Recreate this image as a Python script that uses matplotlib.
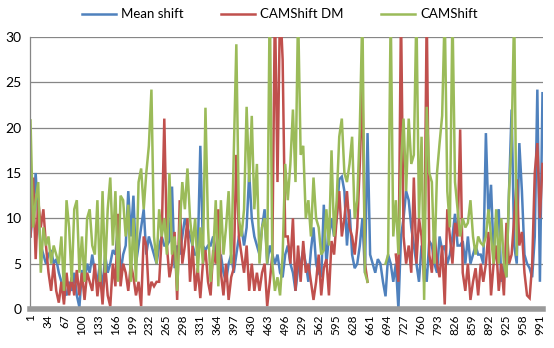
import numpy as np
import matplotlib
matplotlib.use("Agg")
import matplotlib.pyplot as plt

nan = np.nan

# Frame numbers sampled every 5 frames (1 .. 996)
frames = list(range(1, 997, 5))

mean_shift = [
    8, 11, 15, 10, 7, 6, 5, 6, 6.5, 5, 5.5, 4, 3, 2, 1.5, 3, 2, 4, 1.5, 0.2, 4.3, 3, 5, 4, 6,
    4, 3, 5, 2, 6, 4, 5, 6.5, 6, 9, 4, 6, 7, 13, 8, 12.5, 5, 7, 9, 11, 6, 8, 7, 6, 5,
    7, 8, 7, 7, 7.5, 13.5, 4.5, 7, 6, 8, 10, 9, 8, 7, 6, 6, 18, 7, 6.5, 7, 7, 8, 6, 5, 6,
    4, 3, 5, 6, 4, 6, 8, 9, 7, 9, 15, 10, 8, 7, 6, 9, 11, 5, 7, 6, 5, 6, 4, 3.5, 6,
    7, 5, 4, 2, 4.5, 5, 6.5, 5, 3, 6.5, 9, 5, 4, 3.5, 11.5, 5, 8, 10, 8, 10, 14.3, 14.6, 13, 7, 11,
    6, 4.5, 5, 7, 10, 4, 19.4, 6, 5, 4, 5.5, 5, 3, 1.4, 6, 5, 3, 5, 0, 8, 10, 13, 12, 9, 7,
    5, 3, 7, 5, 3, 7.5, 7, 5, 4, 8, 6.5, 7, 5, 6, 8, 10.5, 7, 7, 7.5, 5, 8, 5, 6, 7, 6,
    6, 5, 19.4, 10, 13.7, 6, 10, 11, 3, 5, 3.5, 13, 22, 7, 5, 18.3, 13, 6, 5, 4.5, 3.5, 8, 24.2, 3, 23.8,
]

camshift_dm = [
    8, 14.5, 5.5, 12, 9, 11, 7, 4, 2, 5, 2, 0.7, 3, 0.5, 4, 1.5, 3.5, 1.5, 4.3, 1.5, 4, 1, 4, 3, 2,
    5, 1.4, 4, 0.5, 5, 1.5, 0.3, 5, 2.5, 10.5, 2.5, 5, 4, 2, 5, 3.5, 1.5, 3, 0.3, 8, 7, 1.5, 3, 2.5, 3,
    3, 8, 21, 7, 3.5, 5, 8.5, 1, 12, 5, 7, 10, 3, 7, 2, 4.5, 1.2, 5, 6.5, 3, 1.5, 6.5, 5, 11, 4,
    1.5, 5, 1, 3.5, 4.5, 17, 8, 6, 4, 7, 2, 5, 2, 4, 2, 4, 5, 0.3, 3, 6, 34, 14, 34, 27.5, 8,
    8, 5, 10, 2, 7, 3, 7.5, 4, 5, 3, 1, 3, 6, 1.5, 4.5, 5.5, 1.5, 7.5, 6, 10, 13, 8, 10, 13, 9,
    8, 6, 9, 16, 25, 5, 3, nan, nan, nan, nan, nan, nan, nan, nan, nan, nan, 6, 3, 33, 8, 5, 7, 4, 14.5,
    5, 10, 8, 3, 33, 6, 4, 8.7, 5, 3.5, 7, 0.5, 11, 8, 5, 9.5, 8, 19.8, 4, 2, 5, 1, 3, 4.5, 1.5,
    5, 3, 5, 8.5, 1.5, 5, 7, 2, 5, 1.5, 9.5, 5, 6, 10, 14.3, 7, 8.5, 4, 1.5, 1.2, 5, 15, 18.3, 10, 16,
]

camshift = [
    20.8, 9, 12, 14, 4, 9, 7, 8, 5, 7, 6, 5, 8, 2, 12, 9, 3, 11, 12, 4, 8, 3, 10, 11, 7,
    6, 12, 3, 13, 4, 11, 14.5, 7, 13, 3, 12.5, 12, 8, 11.5, 3, 10, 3, 14, 15.5, 11, 15, 18, 24.2, 8, 5,
    11, 8, 10, 6, 15, 6, 8, 2, 9, 14, 11, 15.5, 10, 7, 10, 4, 9, 5, 22.2, 9, 3, 6, 12, 2.5, 12,
    6, 9, 13, 5, 17, 29.2, 10, 8, 11, 22.3, 14, 21.3, 11, 16, 5, 9, 10, 5, 35, 5, 2, 3.5, 1.5, 6, 16,
    12, 16, 22, 14, 33, 17, 18, 10, 12, 8, 14.5, 10, 9, 6, 6.5, 11, 7, 17.5, 8, 12, 19, 21, 15, 14, 16,
    19, 10, 12, 20, 33, 4, 3, nan, nan, nan, nan, nan, nan, 5, 6, 33, 8, 12, 6, 16, 21, 13, 21, 16, 17,
    33, 10, 19, 1, 22.3, 15, 14, 5, 15, 18.3, 21.3, 33, 13, 9, 33, 14, 11, 8, 10, 9, 9.5, 12, 8, 6, 8,
    7.3, 7, 8, 11, 8, 5, 11, 5, 10, 5, 3.5, 13, 18.5, 33, 6, nan, nan, nan, nan, nan, nan, nan, nan, nan, nan,
]

series_names = ["Mean shift", "CAMShift DM", "CAMShift"]
series_colors = ["#4F81BD", "#C0504D", "#9BBB59"]
x_tick_labels = [str(v) for v in range(1, 992, 33)]
y_ticks = [0, 5, 10, 15, 20, 25, 30]

plt.rcParams['font.family'] = ['Lato', 'DejaVu Sans']

fig = plt.figure(figsize=(5.54, 3.48), dpi=100)
ax = fig.add_axes([30 / 554, 39 / 348, 513 / 554, 272 / 348])

for vals, name, col in zip([mean_shift, camshift_dm, camshift], series_names, series_colors):
    ax.plot(frames, vals, color=col, lw=1.8, label=name, solid_joinstyle='miter')

ax.set_ylim(0, 30)
ax.set_xlim(0, 997)
ax.set_yticks(y_ticks)
ax.set_yticklabels([str(v) for v in y_ticks], fontsize=10)
ax.set_xticks([int(t) for t in x_tick_labels])
ax.set_xticklabels(x_tick_labels, rotation=90, fontsize=8.5)
ax.tick_params(axis='both', length=0, pad=4)
ax.tick_params(axis='y', pad=6)
ax.yaxis.grid(True, color='#868686', lw=0.9)
ax.set_axisbelow(True)
for s in ['top', 'right']:
    ax.spines[s].set_visible(False)
ax.spines['left'].set_color('#868686')
ax.spines['left'].set_linewidth(0.9)
ax.spines['bottom'].set_color('#9a9a9a')
ax.spines['bottom'].set_linewidth(4)

fig.legend(loc='upper center', bbox_to_anchor=(0.505, 1.01), ncol=3, frameon=False,
           fontsize=9.5, handlelength=2.6, columnspacing=2.8, handletextpad=0.4)

fig.savefig("out.png", dpi=100)
